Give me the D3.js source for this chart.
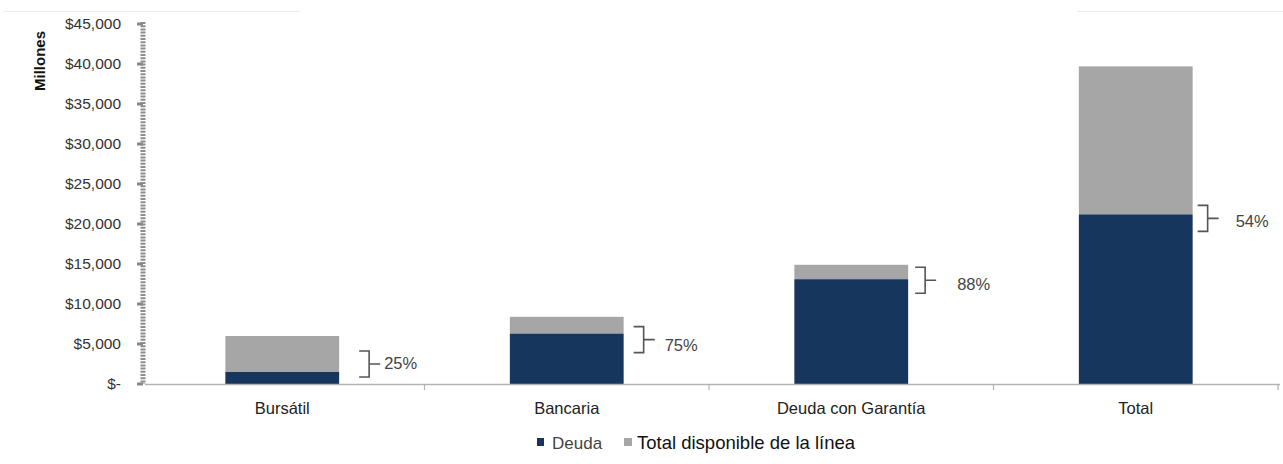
<!DOCTYPE html>
<html>
<head>
<meta charset="utf-8">
<script src="https://cdn.jsdelivr.net/npm/d3@7"></script>
<style>
  html, body { margin: 0; padding: 0; background: #fff; }
  svg { display: block; }
  text { font-family: "Liberation Sans", Arial, sans-serif; }
</style>
</head>
<body>
<svg id="chart" width="1283" height="464"></svg>
<script>
// ---- data ----
const categories = ["Bursátil", "Bancaria", "Deuda con Garantía", "Total"];
const deuda = [1500, 6300, 13100, 21200];
const totalDisponible = [6000, 8400, 14900, 39700];
const pctLabels = ["25%", "75%", "88%", "54%"];
const yTicks = [0, 5000, 10000, 15000, 20000, 25000, 30000, 35000, 40000, 45000];
const yTickLabels = ["$-", "$5,000", "$10,000", "$15,000", "$20,000", "$25,000", "$30,000", "$35,000", "$40,000", "$45,000"];
const seriesNames = ["Deuda", "Total disponible de la línea"];

// annotation placement (hand-placed in the original)
const bracketDx = [20, 10, 7, 5];
const bracketDy = [-8, 6, 1, 4];
const labelDx = [15, 21, 32, 28];
const labelDy = [-1, 5, 4, 3];

const colors = { deuda: "#17365D", total: "#A6A6A6" };

const svg = d3.select("#chart");

const x = d3.scaleBand().domain(categories).range([140, 1278]).paddingInner(0.6).paddingOuter(0.3);
const y = d3.scaleLinear().domain([0, 45000]).range([384, 24]);

// faint top lines
svg.append("line").attr("x1", 3).attr("x2", 300).attr("y1", 11.5).attr("y2", 11.5).attr("stroke", "#ececec");
svg.append("line").attr("x1", 1077).attr("x2", 1283).attr("y1", 11.5).attr("y2", 11.5).attr("stroke", "#ececec");

// bars
const data = categories.map((c, i) => ({ c, deuda: deuda[i], total: totalDisponible[i], i }));
const g = svg.append("g");
g.selectAll("rect.total").data(data).join("rect")
  .attr("class", "total")
  .attr("x", d => x(d.c)).attr("width", x.bandwidth())
  .attr("y", d => y(d.total)).attr("height", d => y(d.deuda) - y(d.total))
  .attr("fill", colors.total);
g.selectAll("rect.deuda").data(data).join("rect")
  .attr("class", "deuda")
  .attr("x", d => x(d.c)).attr("width", x.bandwidth())
  .attr("y", d => y(d.deuda)).attr("height", d => y(0) - y(d.deuda))
  .attr("fill", colors.deuda);

// x axis baseline & ticks
svg.append("line").attr("x1", 145).attr("x2", 1280).attr("y1", y(0) + 0.5).attr("y2", y(0) + 0.5)
  .attr("stroke", "#b3b3b3").attr("stroke-width", 1.5);
const step = x.step();
svg.append("g").selectAll("line").data(categories).join("line")
  .attr("x1", d => x(d) + x.bandwidth() / 2 + step / 2)
  .attr("x2", d => x(d) + x.bandwidth() / 2 + step / 2)
  .attr("y1", y(0)).attr("y2", y(0) + 6)
  .attr("stroke", "#b3b3b3").attr("stroke-width", 1.2);

// category labels
svg.append("g").selectAll("text").data(categories).join("text")
  .attr("x", d => x(d) + x.bandwidth() / 2)
  .attr("y", 414)
  .attr("text-anchor", "middle")
  .attr("font-size", "16.5px")
  .attr("fill", "#222")
  .text(d => d);

// y axis: dense dashed line
svg.append("line").attr("x1", 143).attr("x2", 143).attr("y1", y(45000) - 2).attr("y2", y(0))
  .attr("stroke", "#8c8c8c").attr("stroke-width", 5).attr("stroke-dasharray", "2,1.2");
svg.append("g").selectAll("line").data(yTicks).join("line")
  .attr("x1", 137).attr("x2", 143).attr("y1", d => y(d)).attr("y2", d => y(d))
  .attr("stroke", "#888").attr("stroke-width", 3);
svg.append("g").selectAll("text").data(yTicks).join("text")
  .attr("x", 121)
  .attr("y", d => y(d) + 5)
  .attr("text-anchor", "end")
  .attr("font-size", "15.5px")
  .attr("fill", "#333")
  .text((d, i) => yTickLabels[i]);

// y axis title
svg.append("text")
  .attr("transform", "translate(45,61) rotate(-90)")
  .attr("text-anchor", "middle")
  .attr("font-size", "15px")
  .attr("font-weight", "bold")
  .attr("fill", "#111")
  .text("Millones");

// brackets + percentage labels
const ann = svg.append("g");
data.forEach(d => {
  const i = d.i;
  const left = x(d.c) + x.bandwidth() + bracketDx[i];
  const vx = left + 10;
  const cy = y(d.deuda) + bracketDy[i];
  const h = 13;
  ann.append("path")
    .attr("d", `M${left},${cy - h}H${vx}V${cy + h}H${left}M${vx},${cy}H${vx + 11}`)
    .attr("fill", "none").attr("stroke", "#555").attr("stroke-width", 1.6);
  ann.append("text")
    .attr("x", vx + labelDx[i])
    .attr("y", cy + labelDy[i] + 6)
    .attr("font-size", "16.5px")
    .attr("fill", "#444")
    .text(pctLabels[i]);
});

// legend
const leg = svg.append("g");
leg.append("rect").attr("x", 537).attr("y", 438).attr("width", 7).attr("height", 8).attr("fill", colors.deuda);
leg.append("text").attr("x", 552).attr("y", 449).attr("font-size", "17px").attr("fill", "#444").text(seriesNames[0]);
leg.append("rect").attr("x", 624).attr("y", 438).attr("width", 8).attr("height", 8).attr("fill", colors.total);
leg.append("text").attr("x", 637).attr("y", 449).attr("font-size", "18.5px").attr("fill", "#111").text(seriesNames[1]);
</script>
</body>
</html>
